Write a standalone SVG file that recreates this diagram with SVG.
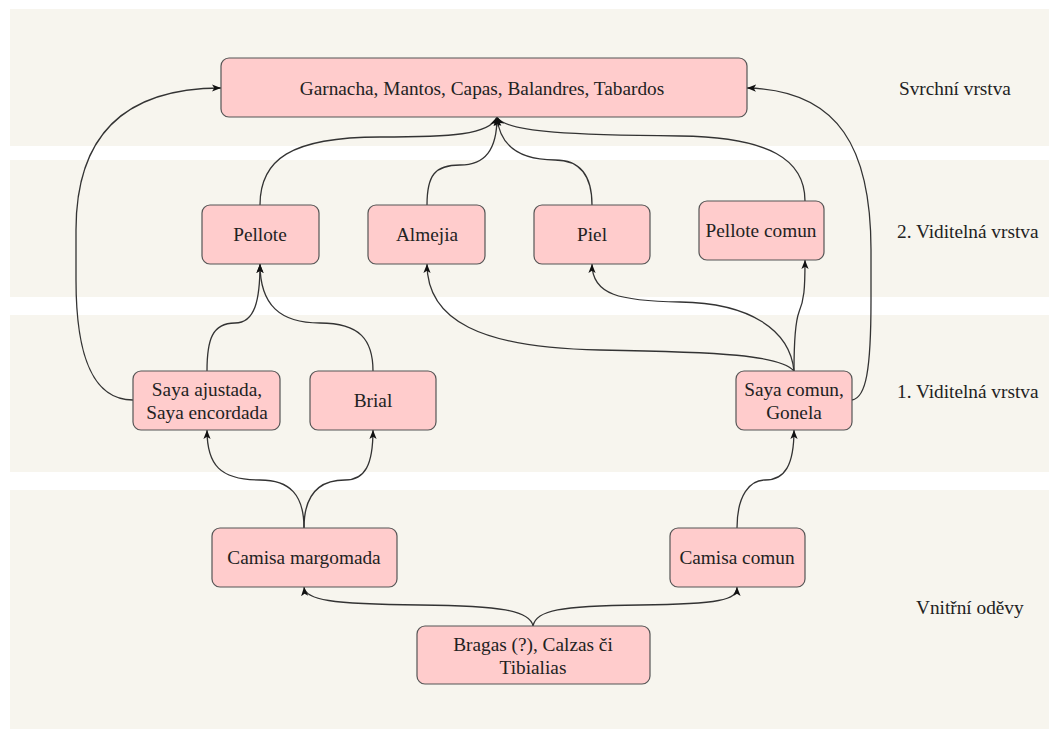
<svg xmlns="http://www.w3.org/2000/svg" width="1049" height="729" viewBox="0 0 1049 729">
<style>
.band{fill:#f7f5ee;stroke:none}
.node rect{fill:#ffcccc;stroke:#555;stroke-width:1.2}
text{font-family:"Liberation Serif","Times New Roman",serif;font-size:19.3px;fill:#222;text-anchor:middle}
.lbl{text-anchor:start}
.edge{fill:none;stroke:#333;stroke-width:1.3;marker-end:url(#arr)}
</style>
<defs>
<marker id="arr" viewBox="0 0 10 10" refX="10" refY="5" markerWidth="9" markerHeight="9" markerUnits="userSpaceOnUse" orient="auto">
<path d="M0,1 L10,5 L0,9 L2.5,5 z" fill="#111"/>
</marker>
</defs>
<g id="bands">
<rect class="band" x="10" y="9" width="1039" height="137"/>
<rect class="band" x="10" y="160" width="1039" height="137"/>
<rect class="band" x="10" y="315" width="1039" height="157"/>
<rect class="band" x="10" y="490" width="1039" height="239"/>
</g>
<g id="layer-labels">
<text class="lbl" x="899" y="95">Svrchní vrstva</text>
<text class="lbl" x="897" y="238">2. Viditelná vrstva</text>
<text class="lbl" x="897" y="398">1. Viditelná vrstva</text>
<text class="lbl" x="916" y="614">Vnitřní oděvy</text>
</g>
<g id="connectors">
<path class="edge" d="M133,400 C90,400 76,350 76,280 L76,230 C76,140 120,88 221,88"/>
<path class="edge" d="M852,400 C866,398 871,370 871,300 L871,250 C871,150 840,90 747,88"/>
<path class="edge" d="M260,205 C260,160 290,137 380,137 C450,137 490,135 497,117"/>
<path class="edge" d="M427,205 C427,175 435,165 460,165 C485,165 497,150 497,117"/>
<path class="edge" d="M592,205 C592,175 580,160 555,160 C525,160 500,150 497,117"/>
<path class="edge" d="M805,201 C805,160 770,137 680,136 C580,135 505,133 497,117"/>
<path class="edge" d="M207,371 C207,340 212,323 235,323 C255,323 260,300 260,264"/>
<path class="edge" d="M373,371 C373,340 360,323 320,323 C280,323 260,305 260,264"/>
<path class="edge" d="M794,371 C780,355 720,352 600,350 C480,348 427,320 427,264"/>
<path class="edge" d="M794,371 C790,330 750,303 680,302 C620,301 592,295 592,264"/>
<path class="edge" d="M794,371 C794,340 796,320 799,312 C804,300 805,290 805,260"/>
<path class="edge" d="M304,528 C304,495 290,480 260,480 C220,480 207,465 207,430"/>
<path class="edge" d="M304,528 C304,495 318,480 345,480 C365,480 373,465 373,430"/>
<path class="edge" d="M737,528 C737,495 750,480 765,480 C785,480 794,465 794,430"/>
<path class="edge" d="M533,626 C530,610 500,606 420,605 C330,604 305,600 304,587"/>
<path class="edge" d="M533,626 C536,610 560,606 640,605 C720,604 737,600 737,587"/>
</g>
<g id="n-top" class="node"><rect x="221" y="58" width="526" height="59" rx="8"/><text x="482" y="95">Garnacha, Mantos, Capas, Balandres, Tabardos</text></g>
<g id="n-pellote" class="node"><rect x="202" y="205" width="117" height="59" rx="8"/><text x="260" y="241">Pellote</text></g>
<g id="n-almejia" class="node"><rect x="368" y="205" width="117" height="59" rx="8"/><text x="427" y="241">Almejia</text></g>
<g id="n-piel" class="node"><rect x="534" y="205" width="116" height="59" rx="8"/><text x="592" y="241">Piel</text></g>
<g id="n-pellote-comun" class="node"><rect x="699" y="201" width="125" height="59" rx="8"/><text x="761" y="237">Pellote comun</text></g>
<g id="n-saya-ajustada" class="node"><rect x="133" y="371" width="147" height="59" rx="8"/><text x="207" y="396">Saya ajustada,</text><text x="207" y="419">Saya encordada</text></g>
<g id="n-brial" class="node"><rect x="310" y="371" width="126" height="59" rx="8"/><text x="373" y="407">Brial</text></g>
<g id="n-saya-comun" class="node"><rect x="736" y="371" width="116" height="59" rx="8"/><text x="794" y="396">Saya comun,</text><text x="794" y="419">Gonela</text></g>
<g id="n-camisa-margomada" class="node"><rect x="212" y="528" width="185" height="59" rx="8"/><text x="304" y="564">Camisa margomada</text></g>
<g id="n-camisa-comun" class="node"><rect x="670" y="528" width="135" height="59" rx="8"/><text x="737" y="564">Camisa comun</text></g>
<g id="n-bragas" class="node"><rect x="417" y="626" width="233" height="58" rx="8"/><text x="533" y="651">Bragas (?), Calzas či</text><text x="533" y="674">Tibialias</text></g>
</svg>
